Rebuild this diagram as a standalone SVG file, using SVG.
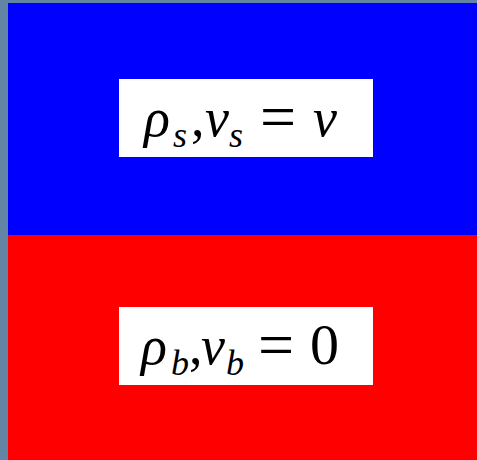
<svg xmlns="http://www.w3.org/2000/svg" width="477" height="460" viewBox="0 0 477 460">
<style>
.lbl{font-family:"Liberation Serif","DejaVu Serif",serif;font-size:54px;fill:#000}
.it{font-style:italic}
.sub{font-style:italic;font-size:36px}
.eq{font-size:64px}
.box{fill:#fff}
</style>
<rect width="477" height="460" fill="#6484a6"/>
<g id="surface">
<rect x="8" y="3" width="469" height="232" fill="#0000ff"/>
<rect class="box" x="119" y="79" width="254" height="78"/>
<text class="lbl" y="136"><tspan class="it" x="144">ρ</tspan><tspan class="sub" x="173" y="147">s</tspan><tspan x="191" y="136">,</tspan><tspan class="it" x="205">v</tspan><tspan class="sub" x="229" y="147">s</tspan><tspan class="eq" x="260" y="138">=</tspan><tspan class="it" x="313" y="136">v</tspan></text>
</g>
<g id="bulk">
<rect x="8" y="235" width="469" height="225" fill="#ff0000"/>
<rect class="box" x="119" y="307" width="254" height="78"/>
<text class="lbl" y="364"><tspan class="it" x="141">ρ</tspan><tspan class="sub" x="171" y="375">b</tspan><tspan x="189" y="364">,</tspan><tspan class="it" x="201">v</tspan><tspan class="sub" x="226" y="375">b</tspan><tspan class="eq" x="258" y="366">=</tspan><tspan x="310" y="364" font-size="58">0</tspan></text>
</g>
<g id="connectors"/>
</svg>
